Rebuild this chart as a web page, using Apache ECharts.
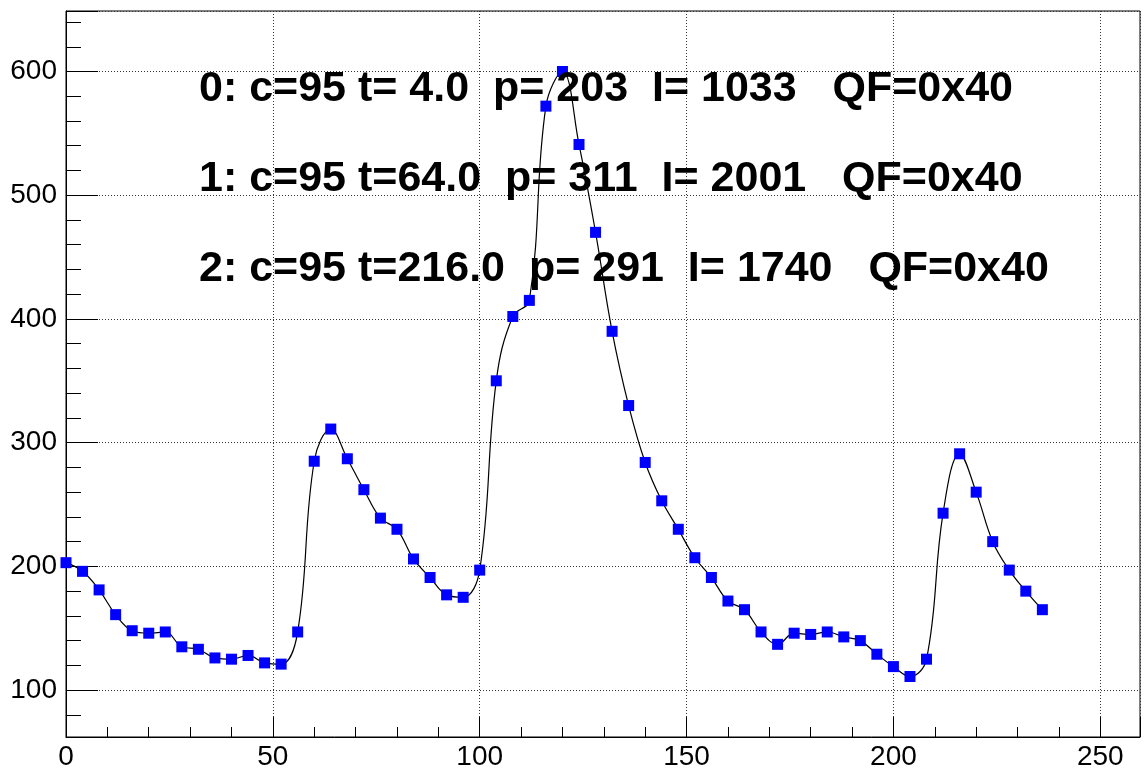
<!DOCTYPE html>
<html>
<head>
<meta charset="utf-8">
<script src="https://cdn.jsdelivr.net/npm/echarts@6/dist/echarts.min.js"></script>
<style>
html, body { margin: 0; padding: 0; background: #fff; }
#chart { width: 1145px; height: 771px; }
</style>
</head>
<body>
<div id="chart"></div>
<script>
// sample positions and amplitudes
var samples = [0, 4, 8, 12, 16, 20, 24, 28, 32, 36, 40, 44, 48, 52, 56, 60, 64, 68, 72, 76,
               80, 84, 88, 92, 96, 100, 104, 108, 112, 116, 120, 124, 128, 132, 136, 140, 144, 148, 152, 156,
               160, 164, 168, 172, 176, 180, 184, 188, 192, 196, 200, 204, 208, 212, 216, 220, 224, 228, 232, 236];
var amplitudes = [203, 196, 181, 161, 148, 146, 147, 135, 133, 126, 125, 128, 122, 121, 147, 285, 311, 287, 262, 239,
                  230, 206, 191, 177, 175, 197, 350, 402, 415, 572, 600, 541, 470, 390, 330, 284, 253, 230, 207, 191,
                  172, 165, 147, 137, 146, 145, 147, 143, 140, 129, 119, 111, 125, 243, 291, 260, 220, 197, 180, 165];
var xMin = 0, xMax = 259.6;
var yMin = 62.1, yMax = 648.9;

var pulseLines = [
    '0: c=95 t= 4.0  p= 203  I= 1033   QF=0x40',
    '1: c=95 t=64.0  p= 311  I= 2001   QF=0x40',
    '2: c=95 t=216.0  p= 291  I= 1740   QF=0x40'
];

var points = [];
for (var i = 0; i < samples.length; i++) {
    points.push([samples[i], amplitudes[i]]);
}

var dotted = { color: '#333', width: 1, type: [1, 2] };

var texts = [];
for (var k = 0; k < pulseLines.length; k++) {
    texts.push({
        type: 'text',
        left: 199,
        top: 68 + k * 90,
        z: 100,
        style: {
            text: pulseLines[k],
            fill: '#000',
            font: 'bold 43px "Liberation Sans", Arial, sans-serif'
        }
    });
}

var option = {
    animation: false,
    backgroundColor: '#fff',
    grid: {
        left: 66, right: 5, top: 11, bottom: 34,
        show: true, borderColor: '#000', borderWidth: 1
    },
    xAxis: {
        type: 'value',
        min: xMin, max: xMax,
        splitNumber: 5,
        axisLine: { lineStyle: { color: '#000', width: 1 } },
        axisTick: { show: true, inside: true, length: 20, lineStyle: { color: '#000' } },
        minorTick: { show: true, splitNumber: 5, length: 10, lineStyle: { color: '#000' } },
        splitLine: { show: true, lineStyle: dotted },
        axisLabel: {
            color: '#000', fontSize: 28, margin: 6,
            fontFamily: '"Liberation Sans", Arial, sans-serif',
            showMinLabel: true, showMaxLabel: false,
            formatter: function (v) { return v % 50 === 0 ? String(v) : ''; }
        }
    },
    yAxis: {
        type: 'value',
        min: yMin, max: yMax,
        splitNumber: 6,
        axisLine: { show: true, lineStyle: { color: '#000', width: 1 } },
        axisTick: { show: true, inside: true, length: 32, lineStyle: { color: '#000' } },
        minorTick: { show: true, splitNumber: 5, length: 15, lineStyle: { color: '#000' } },
        splitLine: { show: true, lineStyle: dotted },
        axisLabel: {
            color: '#000', fontSize: 28, margin: 9,
            fontFamily: '"Liberation Sans", Arial, sans-serif',
            showMinLabel: false, showMaxLabel: false,
            formatter: function (v) { return v % 100 === 0 ? String(v) : ''; }
        }
    },
    series: [
        {
            type: 'line',
            data: points,
            smooth: 0.4,
            showSymbol: false,
            lineStyle: { color: '#000', width: 1.2 },
            z: 2
        },
        {
            type: 'scatter',
            data: points,
            symbol: 'rect',
            symbolSize: 11,
            itemStyle: { color: '#0000ff', opacity: 1 },
            z: 3
        }
    ],
    graphic: texts
};

echarts.init(document.getElementById('chart')).setOption(option);
</script>
</body>
</html>
